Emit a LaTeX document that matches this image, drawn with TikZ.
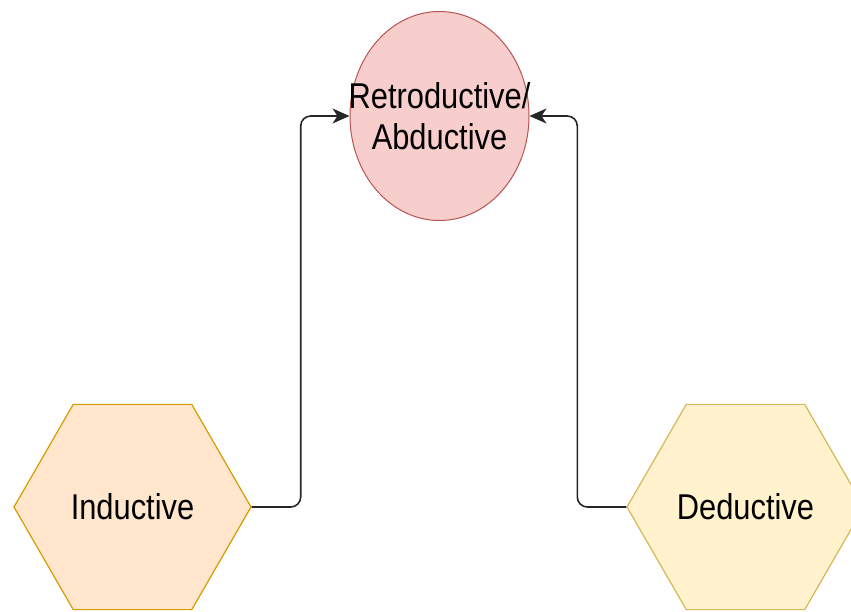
\documentclass[tikz,border=0pt]{standalone}
\usepackage{fontspec}
\setmainfont{Liberation Sans}
\usepackage{graphicx}
\usepackage{tikz}
\usetikzlibrary{arrows.meta,positioning,shapes.geometric}

\definecolor{retfill}{HTML}{F8CECC}
\definecolor{retline}{HTML}{B85450}
\definecolor{indfill}{HTML}{FFE6CC}
\definecolor{indline}{HTML}{D79B00}
\definecolor{dedfill}{HTML}{FFF2CC}
\definecolor{dedline}{HTML}{D6B656}

\newcommand{\narrowtxt}[1]{\scalebox{0.86}[1]{#1}}

\begin{document}
\begin{tikzpicture}[
  x=1bp, y=-1bp,
  font=\fontsize{36}{44}\selectfont,
  reason/.style={ellipse, draw=retline, fill=retfill, line width=1bp,
    minimum width=179bp, minimum height=209bp, inner sep=0pt},
  hexa/.style={regular polygon, regular polygon sides=6, line width=1.2bp,
    minimum size=237bp, inner sep=0pt},
  arr/.style={-{Stealth[length=17bp, width=15bp, inset=5bp]}, line width=1.6bp,
    black!85, rounded corners=10bp},
]
\useasboundingbox (0,0) rectangle (851,612);

% Nodes
\node[reason, label={[align=center]center:\narrowtxt{Retroductive/}\\[-3bp]\narrowtxt{Abductive}}]
  (ret) at (439.5,116) {};
\node[hexa, draw=indline, fill=indfill] (ind) at (132.5,507) {\narrowtxt{Inductive}};
\node[hexa, draw=dedline, fill=dedfill] (ded) at (745.5,507) {\narrowtxt{Deductive}};

% Connectors
\draw[arr] (ind.east) -- ++(49,0) |- (ret.west);
\draw[arr] (ded.west) -- ++(-49,0) |- (ret.east);
\end{tikzpicture}
\end{document}
